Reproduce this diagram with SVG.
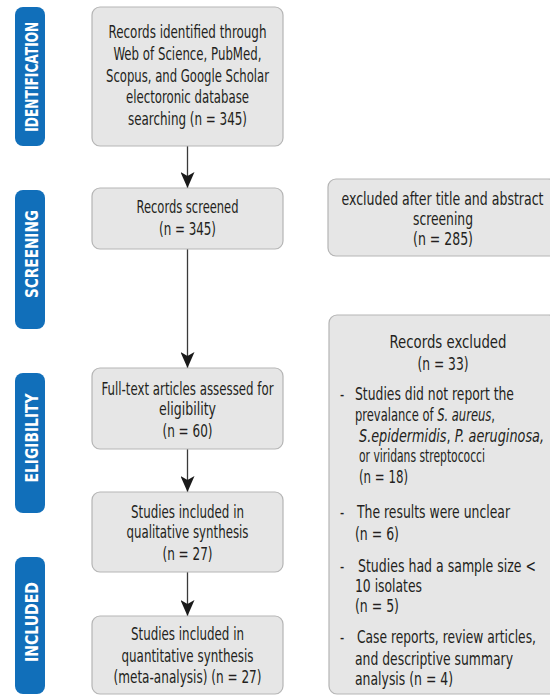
<svg xmlns="http://www.w3.org/2000/svg" width="550" height="695" viewBox="0 0 550 695">
<style>
.box{fill:#e6e6e6;stroke:#b5b5b5;stroke-width:1.2}
.tab{fill:#116fba}
.t{font-family:'Liberation Sans Narrow','DejaVu Sans Condensed','Liberation Sans',sans-serif;font-stretch:condensed;font-size:18.5px;fill:#231f20}
.c{text-anchor:middle}
.tl{font-family:'Liberation Sans Narrow','DejaVu Sans Condensed','Liberation Sans',sans-serif;font-stretch:condensed;font-size:17px;font-weight:bold;fill:#ffffff;text-anchor:middle}
.i{font-style:italic}
.ln{stroke:#3a3a3a;stroke-width:1.3;fill:none}
</style>
<defs>
<marker id="ah" viewBox="0 0 16 14" refX="16" refY="7" markerWidth="16" markerHeight="14" markerUnits="userSpaceOnUse" orient="auto">
<path d="M0,0 L16,7 L0,14 L4,7 Z" fill="#1a1a1a"/>
</marker>
</defs>
<rect width="550" height="695" fill="#ffffff"/>

<g id="tab-identification">
<rect class="tab" x="15" y="7" width="30" height="139" rx="8"/>
<text class="tl" transform="translate(37.5 76.7) rotate(-90) scale(0.75 1)" textLength="146.67" lengthAdjust="spacingAndGlyphs">IDENTIFICATION</text>
</g>
<g id="tab-screening">
<rect class="tab" x="15" y="190" width="30" height="139" rx="8"/>
<text class="tl" transform="translate(37.5 254) rotate(-90) scale(0.75 1)" textLength="117.33" lengthAdjust="spacingAndGlyphs">SCREENING</text>
</g>
<g id="tab-eligibility">
<rect class="tab" x="15" y="373" width="30" height="140" rx="8"/>
<text class="tl" transform="translate(37.5 438) rotate(-90) scale(0.75 1)" textLength="118.67" lengthAdjust="spacingAndGlyphs">ELIGIBILITY</text>
</g>
<g id="tab-included">
<rect class="tab" x="15" y="557" width="30" height="137" rx="8"/>
<text class="tl" transform="translate(37.5 622) rotate(-90) scale(0.75 1)" textLength="106.67" lengthAdjust="spacingAndGlyphs">INCLUDED</text>
</g>

<g id="connectors">
<line class="ln" x1="187.5" y1="146" x2="187.5" y2="188" marker-end="url(#ah)"/>
<line class="ln" x1="187.5" y1="249" x2="187.5" y2="368" marker-end="url(#ah)"/>
<line class="ln" x1="187.5" y1="449" x2="187.5" y2="492" marker-end="url(#ah)"/>
<line class="ln" x1="187.5" y1="572" x2="187.5" y2="616" marker-end="url(#ah)"/>
</g>

<g id="records-identified">
<rect class="box" x="92" y="7" width="191" height="139" rx="8"/>
<g transform="scale(0.7 1)">
<text class="t c" x="267.857" y="38" textLength="225.71" lengthAdjust="spacingAndGlyphs">Records identified through</text>
<text class="t c" x="267.857" y="60" textLength="211.43" lengthAdjust="spacingAndGlyphs">Web of Science, PubMed,</text>
<text class="t c" x="267.857" y="82" textLength="232.86" lengthAdjust="spacingAndGlyphs">Scopus, and Google Scholar</text>
<text class="t c" x="267.857" y="103" textLength="175.71" lengthAdjust="spacingAndGlyphs">electoronic database</text>
<text class="t c" x="267.857" y="125" textLength="170" lengthAdjust="spacingAndGlyphs">searching (n = 345)</text>
</g>
</g>

<g id="records-screened">
<rect class="box" x="92" y="188" width="191" height="61" rx="8"/>
<g transform="scale(0.7 1)">
<text class="t c" x="267.857" y="213" textLength="145.71" lengthAdjust="spacingAndGlyphs">Records screened</text>
<text class="t c" x="267.857" y="235" textLength="81.43" lengthAdjust="spacingAndGlyphs">(n = 345)</text>
</g>
</g>

<g id="excluded-screening">
<rect class="box" x="328" y="179" width="228" height="77" rx="8"/>
<g transform="scale(0.7 1)">
<text class="t c" x="632.143" y="205" textLength="288.57" lengthAdjust="spacingAndGlyphs">excluded after title and abstract</text>
<text class="t c" x="632.857" y="225" textLength="85.71" lengthAdjust="spacingAndGlyphs">screening</text>
<text class="t c" x="632.857" y="245" textLength="85.71" lengthAdjust="spacingAndGlyphs">(n = 285)</text>
</g>
</g>

<g id="full-text">
<rect class="box" x="92" y="368" width="191" height="81" rx="8"/>
<g transform="scale(0.7 1)">
<text class="t c" x="267.857" y="395" textLength="245.71" lengthAdjust="spacingAndGlyphs">Full-text articles assessed for</text>
<text class="t c" x="267.857" y="415" textLength="81.43" lengthAdjust="spacingAndGlyphs">eligibility</text>
<text class="t c" x="267.857" y="437" textLength="71.43" lengthAdjust="spacingAndGlyphs">(n = 60)</text>
</g>
</g>

<g id="qualitative">
<rect class="box" x="92" y="492" width="191" height="80" rx="8"/>
<g transform="scale(0.7 1)">
<text class="t c" x="267.857" y="518" textLength="161.43" lengthAdjust="spacingAndGlyphs">Studies included in</text>
<text class="t c" x="267.857" y="538" textLength="174.29" lengthAdjust="spacingAndGlyphs">qualitative synthesis</text>
<text class="t c" x="267.857" y="560" textLength="71.43" lengthAdjust="spacingAndGlyphs">(n = 27)</text>
</g>
</g>

<g id="quantitative">
<rect class="box" x="92" y="616" width="191" height="78" rx="8"/>
<g transform="scale(0.7 1)">
<text class="t c" x="267.857" y="640" textLength="161.43" lengthAdjust="spacingAndGlyphs">Studies included in</text>
<text class="t c" x="267.857" y="662" textLength="188.57" lengthAdjust="spacingAndGlyphs">quantitative synthesis</text>
<text class="t c" x="267.857" y="683" textLength="211.43" lengthAdjust="spacingAndGlyphs">(meta-analysis) (n = 27)</text>
</g>
</g>

<g id="records-excluded">
<rect class="box" x="329" y="315" width="228" height="379" rx="8"/>
<g transform="scale(0.7 1)">
<text class="t c" x="640" y="348" textLength="167.14" lengthAdjust="spacingAndGlyphs">Records excluded</text>
<text class="t c" x="632.857" y="370" textLength="72.86" lengthAdjust="spacingAndGlyphs">(n = 33)</text>
<text class="t" x="485.714" y="400">-</text>
<text class="t" x="507.143" y="400" textLength="227.14" lengthAdjust="spacingAndGlyphs">Studies did not report the</text>
<text class="t" x="507.143" y="421" textLength="200" lengthAdjust="spacingAndGlyphs">prevalance of <tspan class="i">S. aureus</tspan>,</text>
<text class="t" x="512.857" y="442" textLength="264.29" lengthAdjust="spacingAndGlyphs"><tspan class="i">S.epidermidis</tspan>,  <tspan class="i">P. aeruginosa,</tspan></text>
<text class="t" x="512.857" y="462" textLength="180" lengthAdjust="spacingAndGlyphs">or viridans streptococci</text>
<text class="t" x="512.857" y="483" textLength="70" lengthAdjust="spacingAndGlyphs">(n = 18)</text>
<text class="t" x="485.714" y="518">-</text>
<text class="t" x="510" y="518" textLength="218.57" lengthAdjust="spacingAndGlyphs">The results were unclear</text>
<text class="t" x="507.143" y="540" textLength="62.86" lengthAdjust="spacingAndGlyphs">(n = 6)</text>
<text class="t" x="485.714" y="572">-</text>
<text class="t" x="511.429" y="572" textLength="254.29" lengthAdjust="spacingAndGlyphs">Studies  had a sample size &lt;</text>
<text class="t" x="507.143" y="592" textLength="95.71" lengthAdjust="spacingAndGlyphs">10 isolates</text>
<text class="t" x="507.143" y="612" textLength="62.86" lengthAdjust="spacingAndGlyphs">(n = 5)</text>
<text class="t" x="485.714" y="643">-</text>
<text class="t" x="510" y="643" textLength="255.71" lengthAdjust="spacingAndGlyphs">Case reports, review articles,</text>
<text class="t" x="507.143" y="665" textLength="225.71" lengthAdjust="spacingAndGlyphs">and descriptive summary</text>
<text class="t" x="507.143" y="685" textLength="140" lengthAdjust="spacingAndGlyphs">analysis (n = 4)</text>
</g>
</g>
</svg>
